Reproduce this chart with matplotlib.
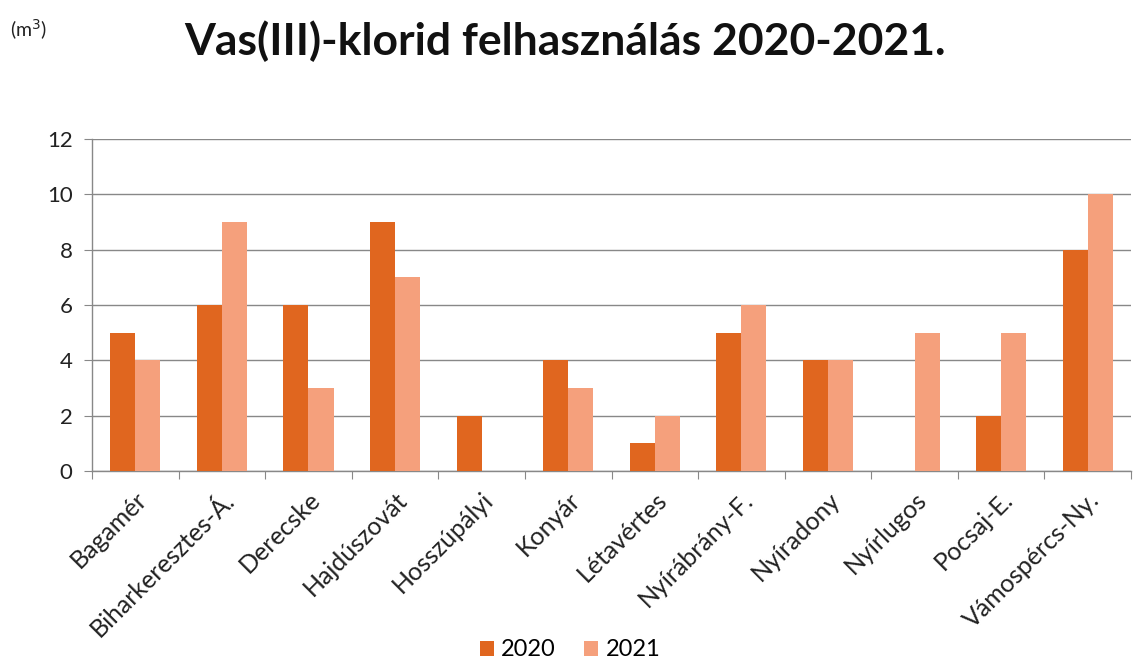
import matplotlib
matplotlib.use("Agg")
import matplotlib.pyplot as plt
import numpy as np

categories = ["Bagamér", "Biharkeresztes-Á.", "Derecske", "Hajdúszovát", "Hosszúpályi",
              "Konyár", "Létavértes", "Nyírábrány-F.", "Nyíradony", "Nyírlugos",
              "Pocsaj-E.", "Vámospércs-Ny."]
values_2020 = [5, 6, 6, 9, 2, 4, 1, 5, 4, 0, 2, 8]
values_2021 = [4, 9, 3, 7, 0, 3, 2, 6, 4, 5, 5, 10]
series_labels = ["2020", "2021"]
y_ticks = [0, 2, 4, 6, 8, 10, 12]

plt.rcParams['font.family'] = ['Lato', 'DejaVu Sans']

W, H = 1138, 671
fig = plt.figure(figsize=(W / 100, H / 100), dpi=100)
ax = fig.add_axes([92 / W, 1 - 471 / H, (1131 - 92) / W, (471 - 139) / H])

x = np.arange(len(categories))
bw = 0.29
ax.bar(x - bw / 2, values_2020, width=bw, color="#E0661F", label=series_labels[0], zorder=3)
ax.bar(x + bw / 2, values_2021, width=bw, color="#F5A07C", label=series_labels[1], zorder=3)

ax.set_xlim(-0.5, len(categories) - 0.5)
ax.set_ylim(0, 12)
ax.set_yticks(y_ticks)
ax.set_yticklabels([str(v) for v in y_ticks], fontsize=16, color="#222222")
ax.yaxis.grid(True, color="#888888", linewidth=1.0, zorder=0)
ax.set_axisbelow(True)

# category boundary ticks
ax.set_xticks(np.arange(-0.5, len(categories) + 0.5, 1.0))
ax.set_xticklabels([])
ax.tick_params(axis="x", length=6, color="#888888", direction="out")
ax.tick_params(axis="y", length=6, color="#888888", direction="out", pad=8)
ax.set_xticks(x, minor=True)
ax.set_xticklabels(categories, minor=True, rotation=45, ha="right", rotation_mode="anchor",
                   fontsize=18, color="#222222")
ax.tick_params(axis="x", which="minor", length=0, pad=12)

for s in ["top", "right"]:
    ax.spines[s].set_visible(False)
for s in ["left", "bottom"]:
    ax.spines[s].set_color("#888888")
    ax.spines[s].set_linewidth(1.0)

fig.text(565 / W, 1 - 41 / H, "Vas(III)-klorid felhasználás 2020-2021.", ha="center", va="center",
         fontsize=32, fontweight="bold", color="#111111")
fig.text(10 / W, 1 - 30 / H, "(m$^3$)", ha="left", va="center", fontsize=14, color="#222222")

leg = fig.legend(loc="center", bbox_to_anchor=(570 / W, 1 - 650 / H), ncol=2, frameon=False,
                 fontsize=17, handlelength=0.6, handleheight=0.6, handletextpad=0.3, columnspacing=1.2)

fig.savefig("out.png", dpi=100)
